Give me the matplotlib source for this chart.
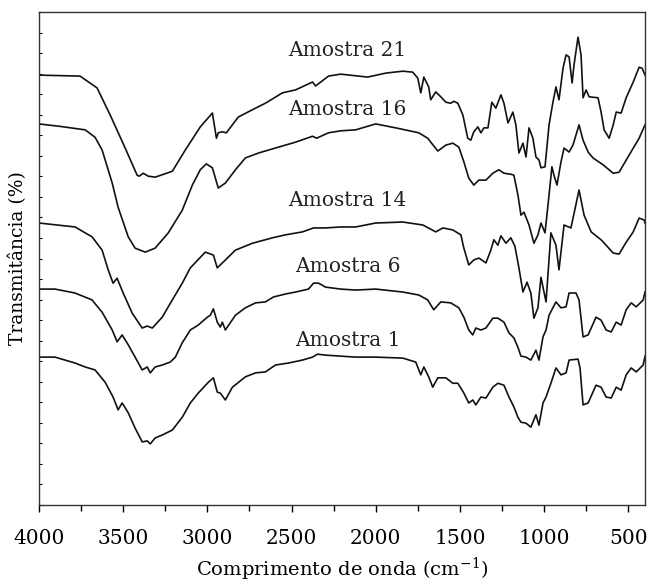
import numpy as np
import matplotlib
matplotlib.use("Agg")
import matplotlib.pyplot as plt
from matplotlib.ticker import MultipleLocator, NullFormatter

# FTIR spectra (wavenumber in cm-1, transmittance in arbitrary offset units)
wn_21 = [4000, 3756, 3655, 3577, 3488, 3417, 3405, 3381, 3351, 3310, 3208, 3131, 3042, 2970, 2946,
         2935, 2911, 2887, 2816, 2714, 2655, 2554, 2476, 2375, 2357, 2280, 2208, 2048, 1941, 1839,
         1780, 1750, 1732, 1714, 1685, 1673, 1643, 1613, 1583, 1554, 1536, 1512, 1482, 1453, 1435,
         1417, 1393, 1375, 1357, 1333, 1310, 1286, 1256, 1238, 1214, 1185, 1167, 1149, 1125, 1107,
         1089, 1066, 1048, 1030, 1018, 994, 970, 947, 929, 911, 887, 869, 851, 833, 822, 798, 780,
         768, 750, 732, 679, 661, 643, 613, 589, 571, 542, 512, 470, 435, 417, 400]
t_21 = [87.2, 87.0, 84.6, 79.1, 72.4, 66.9, 66.7, 67.3, 66.7, 66.5, 67.7, 72.0, 76.7, 79.5, 74.4,
        75.5, 75.7, 75.5, 78.7, 80.5, 81.5, 83.6, 84.2, 85.8, 85.0, 87.0, 87.4, 86.8, 87.6, 88.0,
        87.8, 86.6, 83.6, 86.8, 84.8, 82.2, 83.8, 82.8, 81.7, 81.5, 81.9, 81.5, 79.1, 74.4, 74.0,
        75.7, 76.7, 75.5, 76.5, 76.5, 81.7, 80.5, 83.2, 81.5, 77.5, 79.7, 77.1, 71.4, 73.4, 70.6,
        76.5, 74.4, 70.6, 70.0, 68.4, 68.6, 77.1, 81.7, 84.8, 82.2, 88.6, 91.3, 90.9, 85.6, 89.2,
        94.9, 91.3, 82.6, 84.2, 82.8, 82.6, 79.7, 76.1, 74.4, 77.1, 79.7, 79.5, 82.6, 85.8, 88.8,
        88.6, 87.2]

wn_16 = [4000, 3875, 3726, 3667, 3625, 3565, 3530, 3470, 3429, 3369, 3310, 3232, 3149, 3089, 3042,
         3006, 2970, 2935, 2893, 2833, 2774, 2696, 2577, 2476, 2375, 2351, 2280, 2208, 2119, 2000,
         1881, 1744, 1691, 1631, 1583, 1542, 1506, 1476, 1447, 1417, 1387, 1345, 1304, 1268, 1238,
         1197, 1179, 1155, 1137, 1119, 1089, 1060, 1036, 1018, 994, 970, 953, 941, 923, 899, 881,
         851, 828, 792, 768, 738, 709, 649, 589, 554, 494, 435, 400]
t_16 = [77.3, 76.8, 76.1, 74.6, 72.0, 65.3, 60.4, 54.4, 52.1, 51.3, 52.1, 55.2, 59.8, 64.9, 68.0,
        69.2, 68.4, 64.3, 65.3, 68.0, 70.4, 71.4, 72.6, 73.6, 74.8, 74.4, 75.5, 75.9, 76.1, 77.3,
        76.5, 75.5, 74.4, 71.8, 73.0, 73.4, 72.6, 69.6, 66.3, 64.9, 65.9, 65.9, 67.3, 68.0, 67.3,
        67.1, 66.9, 62.9, 58.8, 59.4, 56.8, 53.1, 54.8, 57.2, 55.2, 62.9, 68.6, 66.9, 64.9, 69.6,
        72.4, 71.6, 73.0, 77.1, 74.0, 71.6, 70.4, 69.0, 67.3, 67.5, 71.0, 74.4, 77.1]

wn_14 = [4000, 3786, 3685, 3625, 3589, 3560, 3536, 3500, 3446, 3387, 3357, 3327, 3268, 3208, 3149,
         3101, 3012, 2964, 2941, 2911, 2833, 2732, 2613, 2536, 2435, 2369, 2298, 2208, 2119, 2000,
         1839, 1720, 1643, 1601, 1542, 1494, 1476, 1447, 1417, 1387, 1345, 1316, 1298, 1274, 1256,
         1226, 1197, 1173, 1149, 1125, 1101, 1078, 1060, 1036, 1018, 988, 959, 929, 911, 881, 840,
         792, 762, 720, 661, 631, 589, 554, 512, 470, 435, 405, 400]
t_14 = [57.2, 56.4, 54.4, 51.7, 47.7, 45.0, 46.0, 43.0, 38.9, 35.9, 36.3, 35.9, 38.1, 41.6, 45.0,
        48.1, 51.3, 50.7, 48.1, 49.1, 51.7, 53.1, 54.2, 54.8, 55.4, 56.2, 56.2, 56.4, 56.4, 57.2,
        57.4, 56.8, 55.4, 56.2, 55.8, 54.8, 52.1, 48.7, 49.7, 50.1, 49.1, 51.7, 53.8, 52.7, 54.6,
        53.1, 54.2, 52.5, 48.1, 43.2, 45.2, 43.0, 37.9, 40.0, 46.2, 41.2, 55.2, 52.7, 47.7, 56.8,
        56.2, 63.9, 58.8, 55.4, 53.8, 52.7, 51.1, 50.9, 53.3, 55.4, 58.2, 57.8, 57.2]

wn_6 = [4000, 3905, 3786, 3685, 3625, 3565, 3536, 3506, 3470, 3429, 3387, 3357, 3339, 3310, 3268,
        3220, 3190, 3149, 3101, 3054, 3000, 2982, 2964, 2941, 2923, 2911, 2893, 2833, 2774, 2714,
        2655, 2607, 2536, 2476, 2399, 2369, 2339, 2298, 2208, 2119, 2000, 1839, 1744, 1691, 1655,
        1613, 1554, 1506, 1476, 1447, 1423, 1405, 1375, 1345, 1304, 1274, 1238, 1208, 1179, 1155,
        1137, 1107, 1078, 1048, 1030, 1006, 988, 970, 929, 899, 869, 851, 810, 792, 768, 738, 691,
        661, 631, 601, 571, 542, 512, 482, 452, 411, 400]
t_6 = [43.8, 43.8, 43.0, 41.6, 39.1, 35.5, 33.1, 34.5, 32.5, 30.0, 27.4, 28.0, 26.8, 28.0, 28.4,
       29.0, 30.0, 32.9, 35.5, 36.5, 38.1, 38.5, 39.8, 37.1, 36.1, 37.1, 35.5, 38.5, 40.0, 41.0,
       41.2, 42.2, 42.8, 43.2, 43.8, 45.0, 45.0, 44.2, 43.8, 43.6, 43.8, 43.2, 42.6, 41.6, 39.6,
       41.2, 41.0, 40.0, 38.1, 35.5, 34.5, 35.9, 35.5, 35.9, 37.9, 37.9, 37.1, 34.9, 33.9, 32.0,
       30.2, 30.0, 29.4, 31.4, 29.4, 34.1, 35.5, 38.5, 41.2, 40.0, 40.2, 43.0, 43.0, 41.6, 34.1,
       34.5, 38.1, 37.5, 35.5, 35.1, 37.1, 36.5, 39.6, 41.0, 40.2, 41.6, 43.2]

wn_1 = [4000, 3905, 3786, 3726, 3667, 3607, 3560, 3530, 3506, 3470, 3429, 3387, 3357, 3339, 3310,
        3268, 3208, 3149, 3101, 3054, 2994, 2964, 2941, 2923, 2893, 2851, 2774, 2714, 2655, 2595,
        2518, 2435, 2375, 2345, 2298, 2208, 2119, 2000, 1839, 1762, 1732, 1714, 1685, 1661, 1631,
        1583, 1542, 1512, 1476, 1447, 1423, 1405, 1375, 1345, 1304, 1274, 1238, 1208, 1179, 1155,
        1137, 1107, 1078, 1048, 1030, 1006, 988, 959, 929, 899, 869, 851, 798, 786, 768, 738, 691,
        661, 631, 601, 571, 542, 512, 482, 452, 411, 400]
t_1 = [30.0, 30.0, 28.8, 28.0, 27.4, 24.9, 21.9, 19.3, 20.7, 18.7, 15.6, 12.8, 13.0, 12.4, 13.6,
       14.2, 15.2, 17.8, 20.7, 22.7, 24.9, 25.8, 22.9, 22.7, 21.3, 23.9, 26.0, 26.8, 27.0, 28.4,
       28.8, 29.4, 30.0, 30.6, 30.4, 30.2, 30.0, 30.0, 29.8, 29.0, 26.4, 28.0, 26.0, 23.9, 25.8,
       25.8, 24.7, 24.7, 22.7, 20.7, 21.3, 20.3, 21.9, 21.7, 23.9, 24.7, 24.3, 21.9, 19.9, 17.8,
       16.8, 16.6, 15.8, 18.3, 16.2, 20.7, 21.9, 24.7, 27.8, 26.4, 26.8, 29.4, 29.6, 27.8, 20.3,
       20.7, 24.3, 23.9, 21.9, 21.7, 23.9, 23.3, 26.4, 27.8, 27.0, 28.4, 30.2]

labels = ["Amostra 21", "Amostra 16", "Amostra 14", "Amostra 6", "Amostra 1"]
label_pos = [(2167, 92.1), (2167, 80.3), (2167, 61.7), (2167, 48.3), (2167, 33.3)]

plt.rcParams["font.family"] = ["DejaVu Serif"]
plt.rcParams["mathtext.fontset"] = "dejavuserif"

fig = plt.figure(figsize=(6.51, 5.86), dpi=100)
ax = fig.add_axes([0.0599, 0.1382, 0.9309, 0.8413])

series = [(wn_21, t_21), (wn_16, t_16), (wn_14, t_14), (wn_6, t_6), (wn_1, t_1)]
for wn, t in series:
    ax.plot(wn, t, color="#111111", lw=1.2)

for text, (x, y) in zip(labels, label_pos):
    ax.text(x, y, text, ha="center", va="center", fontsize=14.5, color="#222222")

ax.set_xlim(4000, 400)
ax.set_ylim(0, 100)
ax.xaxis.set_major_locator(MultipleLocator(500))
ax.xaxis.set_minor_locator(MultipleLocator(250))
ax.set_yticks(np.linspace(0, 100, 25))
ax.yaxis.set_major_formatter(NullFormatter())
ax.tick_params(axis="x", which="major", direction="out", length=5, width=1, labelsize=14.5, pad=12)
ax.tick_params(axis="x", which="minor", direction="out", length=4, width=1)
ax.tick_params(axis="y", direction="in", length=2.5, width=0.8)
for s in ax.spines.values():
    s.set_linewidth(1.0)
    s.set_color("#333333")

ax.set_xlabel("Comprimento de onda (cm$^{-1}$)", fontsize=14, labelpad=6)
ax.set_ylabel("Transmitância (%)", fontsize=13.5, labelpad=5)

fig.savefig("out.png", dpi=100)
